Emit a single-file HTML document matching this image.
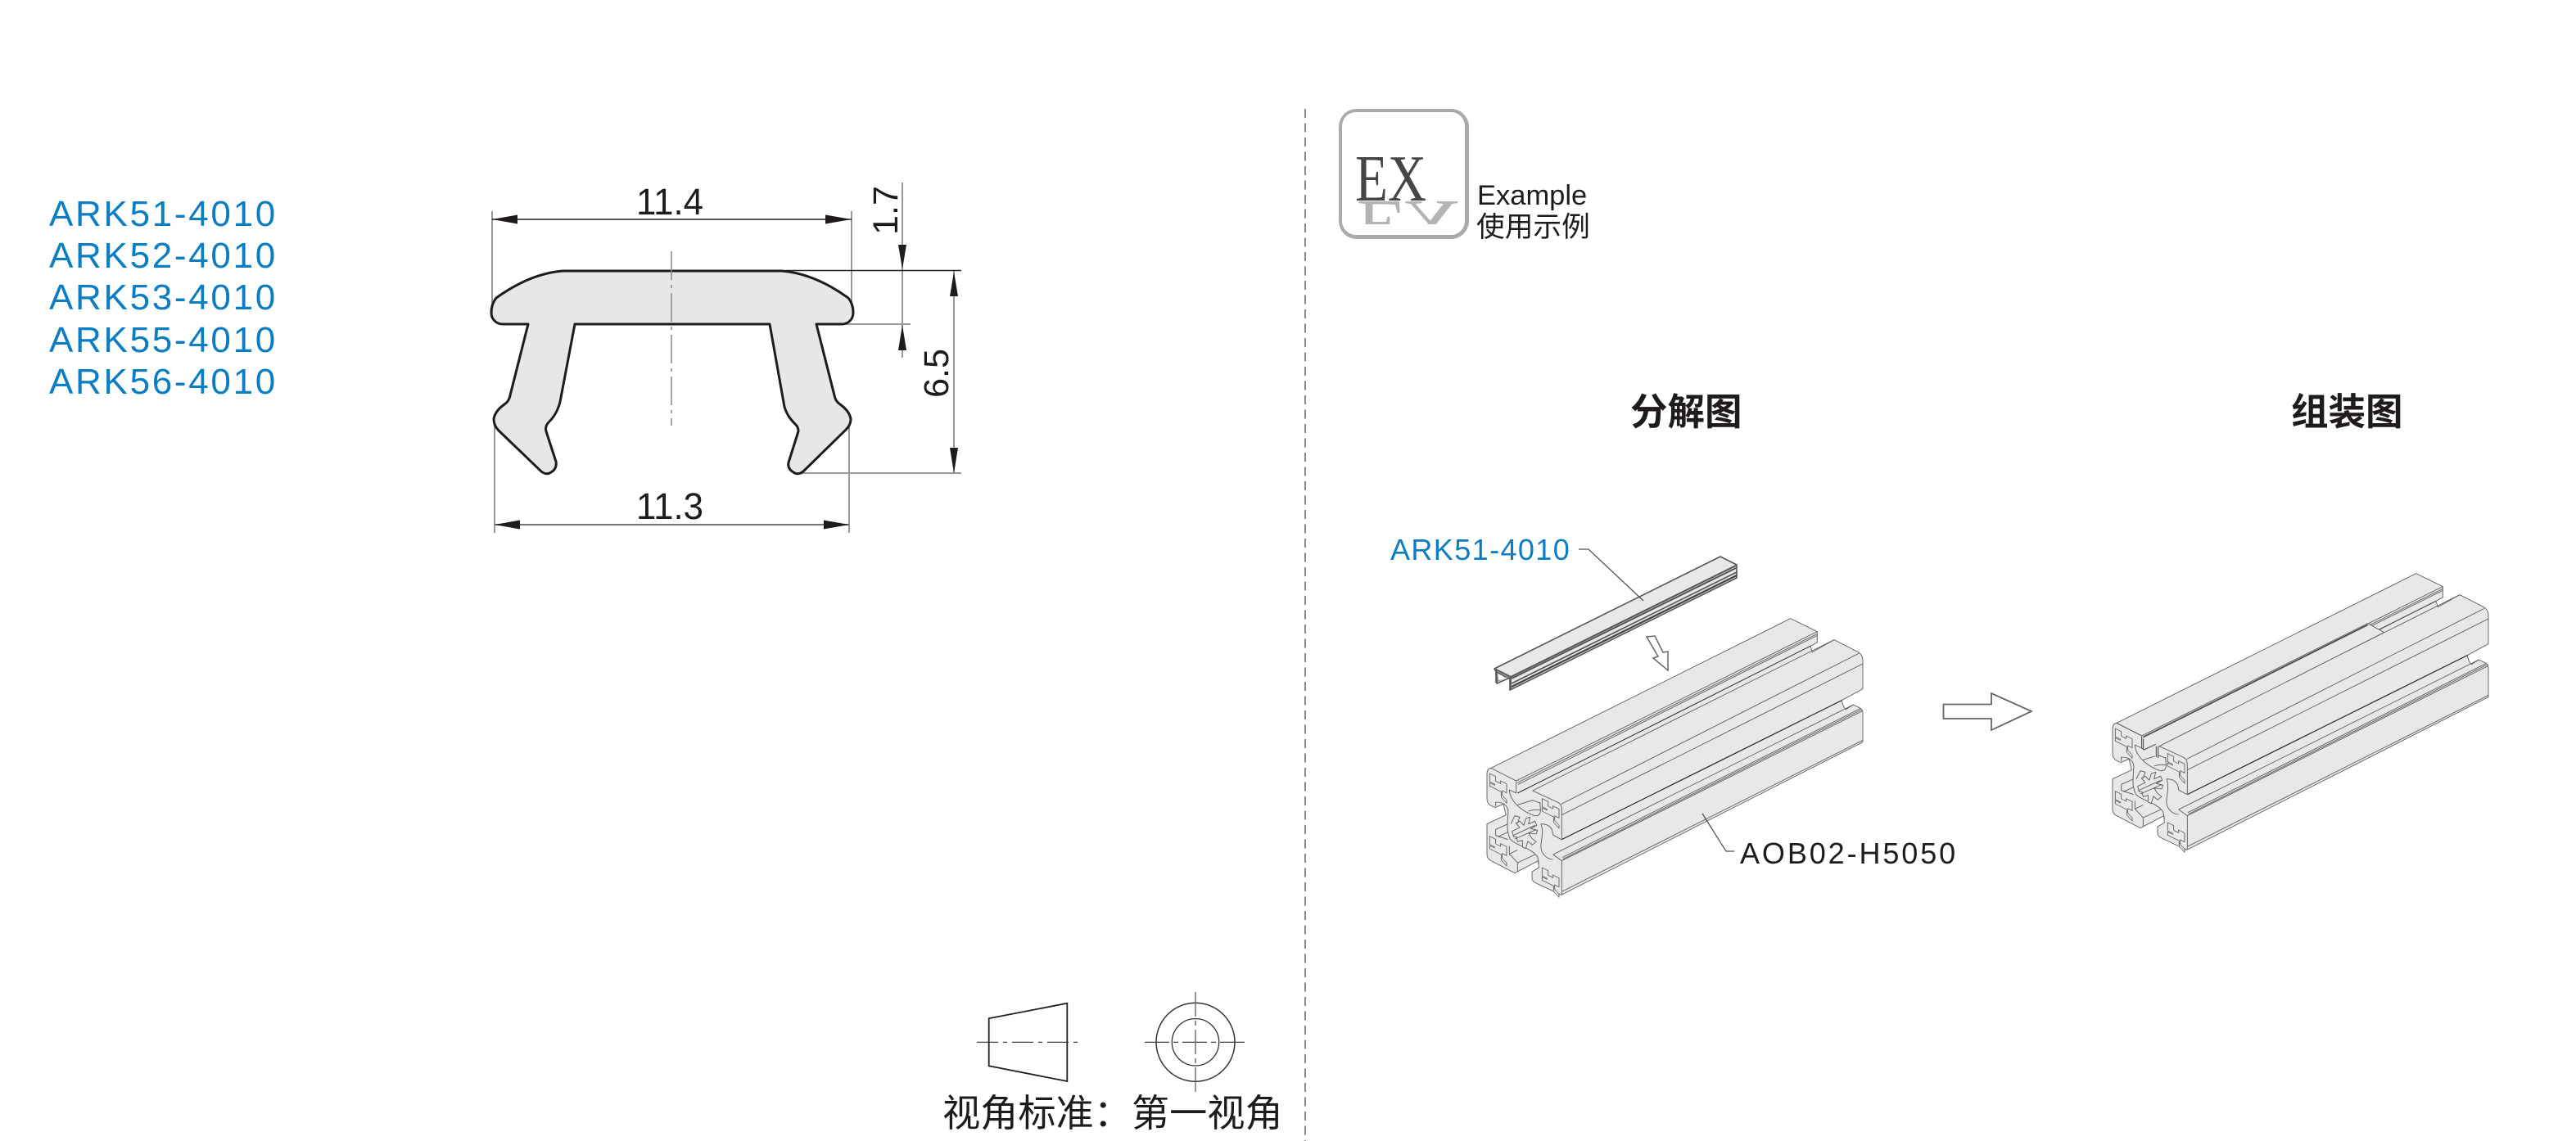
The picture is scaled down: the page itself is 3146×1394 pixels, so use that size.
<!DOCTYPE html>
<html><head><meta charset="utf-8"><style>
html,body{margin:0;padding:0;background:#fff}
svg{display:block}
text{font-family:"Liberation Sans","Noto Sans CJK SC",sans-serif}
</style></head><body>
<svg xmlns="http://www.w3.org/2000/svg" width="3146" height="1394" viewBox="0 0 3146 1394">
<defs>
<linearGradient id="rf" gradientUnits="userSpaceOnUse" x1="0" y1="246" x2="0" y2="276"><stop offset="0" stop-color="#b4b4b4"/><stop offset="1" stop-color="#f2f2f2"/></linearGradient>
<clipPath id="rc"><rect x="1650" y="245" width="136" height="29"/></clipPath>
<path id="h" d="M0 0H22V17H40V7H62V40H46V57L62 66V78L42 66V46H0V34H18V30H0Z" fill="#e8e8ea" stroke="#555" stroke-width="2.5"/>
<g id="p" fill="none" stroke="#555" stroke-width="2.6" stroke-linejoin="round">
<path fill="#e8e8ea" d="M120,632 Q120,612 135,610 L1232,62 L1330,110 L1330,150 L1305,163 L1312,185 L1392,140 L1480,185 Q1497,195 1497,215 L1497,320 L1420,362 Q1424,385 1435,395 L1462,378 L1490,392 Q1497,397 1497,408 L1497,515 L392,1075 L300,1032 Q285,1025 285,1012 L285,990 L310,975 L308,950 L222,995 L135,950 Q120,942 120,925 L120,815 L190,782 L180,742 L150,755 L135,748 Q120,740 120,722 Z"/>
<path d="M135,610 L227,657 L227,702 M227,657 L1330,110"/>
<path d="M231,664 L1330,118 M234,670 L1330,124"/>
<path stroke="#333" stroke-width="3.2" d="M232,702 L1305,163"/>
<path d="M287,693 L1392,140 M287,693 L382,737 Q394,745 394,762 L394,872"/>
<path d="M392,742 L1482,190 M394,782 L1497,228"/>
<path stroke="#222" stroke-width="3.4" d="M394,872 L1420,362"/>
<path d="M362,927 L1462,378 M362,927 L394,950 L394,1072 M394,950 L1497,400 M396,938 L1488,392 M398,944 L1492,396"/>
<path d="M396,1062 L1497,508"/>
<path d="M202,690 C205,735 250,770 295,785 Q318,788 316,760 L314,735 M202,690 L227,702 M232,745 L287,728 L314,738 M272,768 Q300,760 316,765"/>
<path d="M152,750 L152,735 Q195,735 198,770 C195,810 190,840 205,870 C225,895 280,900 305,935 L310,960"/>
<path d="M318,815 Q360,815 362,855 L392,872 M318,815 C330,850 315,880 318,905 C322,930 345,945 362,945"/>
<path d="M202,895 L202,925 L232,957 L297,927 M202,925 L232,910 M232,957 L232,990"/>
<path d="M152,835 L197,815 M152,835 L152,857 L197,872 M160,862 L197,845"/>
<use href="#h" transform="matrix(1,.5,0,1,130,630)"/>
<use href="#h" transform="matrix(1,.5,0,1,322,722)"/>
<use href="#h" transform="matrix(1,.5,0,1,130,860)"/>
<use href="#h" transform="matrix(1,.5,0,1,322,975)"/>
<path fill="#e8e8ea" d="M212,842 L240,828 L226,812 L240,805 L255,820 L262,795 L278,790 L272,815 L296,805 L302,820 L280,832 L305,838 L300,852 L272,848 L285,868 L300,880 L285,892 L270,878 L262,905 L250,900 L250,875 L232,880 L228,862 L218,862 Z"/>
<path d="M207,815 L222,785 L240,790 L232,812 M214,858 L296,820 M222,870 L300,836"/>
</g>
</defs>

<!-- left labels -->
<g fill="#0a7dc3" font-size="44" letter-spacing="2.7">
<text x="60" y="276">ARK51-4010</text>
<text x="60" y="327">ARK52-4010</text>
<text x="60" y="378">ARK53-4010</text>
<text x="60" y="430">ARK55-4010</text>
<text x="60" y="481">ARK56-4010</text>
</g>

<!-- extension lines -->
<g fill="none" stroke="#777" stroke-width="1.5">
<path d="M601,258V372M1040,258V372M604,513V651M1037,513V651"/>
<path d="M1102,223V437M1165,330V578"/>
<path d="M1030,396H1112M976,578H1174" stroke="#999" stroke-width="2"/>
</g>
<path d="M960,330.5H1174" stroke="#222" stroke-width="1.5"/>
<!-- profile -->
<path id="cs" fill="#e7e7e9" stroke="#1f1b1c" stroke-width="3" stroke-linejoin="round" d="M687,331 L955,331 C990,334 1018,351 1036,364 C1040,369 1042,375 1042,382 C1042,390 1036,396 1028,396 L997,396 L1019,483 C1020,489 1023,492 1026,494 C1033,499 1038,505 1039,512 C1039,518 1036,522 1032,526 L982,575 C978,579 973,580 969,577 C964,574 962,570 963,565 L975,527 C975,523 974,521 972,519 C966,513 961,507 958,497 L940,396 L702,396 L684,491 C681,503 676,510 670,516 C667,519 666,523 667,527 L679,564 C680,570 678,574 673,577 C669,580 664,579 660,575 L609,526 C605,522 603,518 603,512 C604,505 609,499 616,494 C619,492 622,489 623,483 L645,396 L614,396 C606,396 600,390 600,382 C600,375 602,369 606,364 C624,351 652,334 687,331 Z"/>
<path d="M820,307V520" stroke="#888" stroke-width="1.5" stroke-dasharray="35 6 4 6" fill="none"/>
<!-- dim lines -->
<g stroke="#222" stroke-width="1.5" fill="none"><path d="M601,268H1040"/><path d="M604,641H1037" stroke="#777" stroke-width="2"/></g>
<g fill="#1f1b1c">
<path d="M601,268L632,262.500V273.500Z"/><path d="M1040,268L1008,262.500V273.500Z"/>
<path d="M604,641L635,635.500V646.500Z"/><path d="M1037,641L1006,635.500V646.500Z"/>
<path d="M1102,329L1097,299H1107Z"/><path d="M1102,397L1097,428H1107Z"/>
<path d="M1165,332L1160,362H1170Z"/><path d="M1165,578L1160,547H1170Z"/>
</g>
<g fill="#1f1b1c" font-size="45">
<text x="777" y="262" textLength="82" lengthAdjust="spacingAndGlyphs">11.4</text>
<text x="777" y="634" textLength="82" lengthAdjust="spacingAndGlyphs">11.3</text>
<text transform="translate(1096,257) rotate(-90)" text-anchor="middle" font-size="43">1.7</text>
<text transform="translate(1158,456) rotate(-90)" text-anchor="middle" font-size="43">6.5</text>
</g>

<!-- center dashed divider -->
<path d="M1594,133V1394" stroke="#888" stroke-width="2" stroke-dasharray="11 6.500" fill="none"/>

<!-- EX icon -->
<rect x="1635" y="133" width="159" height="159" rx="22" ry="22" fill="#aaa"/>
<rect x="1639" y="137" width="150" height="150" rx="17" ry="17" fill="#fff"/>
<text x="1655" y="245" font-size="80" textLength="87" lengthAdjust="spacingAndGlyphs" fill="#4a4545" style="font-family:'Liberation Serif',serif">EX</text>
<g clip-path="url(#rc)"><text transform="translate(1657,246) scale(1,-1)" x="0" y="0" font-size="80" textLength="125" lengthAdjust="spacingAndGlyphs" fill="url(#rf)" style="font-family:'Liberation Serif',serif">EX</text></g>
<text x="1804" y="250" font-size="34.500" fill="#1f1b1c">Example</text>
<text x="1803" y="289" font-size="34.700" fill="#1f1b1c">使用示例</text>

<!-- titles -->
<g font-size="45.500" font-weight="700" fill="#1f1b1c">
<text x="1991" y="519">分解图</text>
<text x="2798" y="519">组装图</text>
</g>

<!-- labels -->
<text x="1698" y="684" font-size="36" letter-spacing="1.400" fill="#0a7dc3">ARK51-4010</text>
<text x="2125" y="1055" font-size="36" letter-spacing="2.900" fill="#1f1b1c">AOB02-H5050</text>

<!-- exploded profile -->
<g transform="translate(1776,735) scale(.33333)"><use href="#p"/></g>
<!-- assembled profile -->
<g transform="translate(2540,680) scale(.33333)"><use href="#p"/>
<path d="M227,657 L1055,245 L1115,278 L287,697 L285,738 L275,738 L275,692 L232,712 L225,700 Z" fill="#e8e8ea" stroke="none"/>
<path d="M135,610 L227,657" stroke="#555" stroke-width="2.600" fill="none"/>
<path d="M227,657 L1055,245 L1115,278 L287,697" fill="none" stroke="#555" stroke-width="2.600"/>
<path d="M232,662 L1055,250" stroke="#444" stroke-width="5" fill="none"/>
<path d="M227,660 V702 L235,708 L278,688 M233,668 V704 M280,695 V735 M287,697 V738" fill="none" stroke="#444" stroke-width="3"/>
</g>

<!-- cover rail -->
<g stroke="#555" stroke-width="1.600" fill="none" stroke-linejoin="round">
<path fill="#e8e8ea" d="M1825,817L2101,680L2121,690V706L1844,843V828L1828,835V822Z"/>
<path stroke-width="2" d="M1825,817L1845,827L2120,691M1846,829L2120,694"/>
<path d="M1845,827V843M1827,819V834M1828,832L1843,825M1828,821L1843,829"/>
<path d="M1829,826V832L1842,826" stroke="#888"/>
<path stroke-width="2.200" stroke="#444" d="M1846,839L2121,703"/>
<path d="M1846,835L2121,699"/>
<path fill="#fff" stroke="none" d="M1830,824L1841,829L1830,831Z"/>
</g>

<!-- leaders -->
<g stroke="#555" stroke-width="1.300" fill="none">
<path d="M1928,671H1940L2007,734"/>
<path d="M2079,994L2108,1040H2118"/>
</g>
<!-- small arrow -->
<path d="M2011,778L2021,777L2031,797L2037,796V819L2019,804L2025,802Z" fill="#fff" stroke="#666" stroke-width="1.500"/>
<!-- large arrow -->
<path d="M2373.500,860.500H2432V847L2481,869L2432,892V878H2373.500Z" fill="#fff" stroke="#666" stroke-width="1.800"/>

<!-- view symbol -->
<path d="M1207.700,1244.300L1303.300,1225.700V1321L1207.700,1302.300Z" fill="none" stroke="#231f20" stroke-width="1.800"/>
<path d="M1193,1273.300H1317" stroke="#333" stroke-width="1.200" stroke-dasharray="26 6 5 6" fill="none"/>
<circle cx="1460" cy="1273.300" r="48" fill="none" stroke="#333" stroke-width="1.500"/>
<circle cx="1460" cy="1273.300" r="28.700" fill="none" stroke="#333" stroke-width="1.300"/>
<path d="M1398,1273.300H1522" stroke="#333" stroke-width="1.200" stroke-dasharray="30 5 6 5" fill="none"/>
<path d="M1460,1212V1335" stroke="#666" stroke-width="1.400" stroke-dasharray="30 5 6 5" fill="none"/>
<text x="1151" y="1376" font-size="46.200" fill="#1f1b1c">视角标准：第一视角</text>
</svg>
</body></html>
